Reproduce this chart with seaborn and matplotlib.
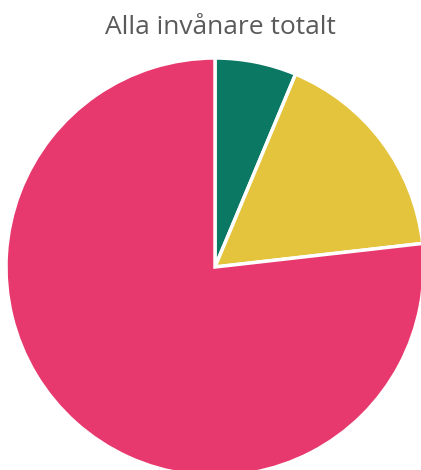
import matplotlib
matplotlib.use("Agg")
import matplotlib.pyplot as plt
import seaborn as sns

# andelar, medurs från klockan tolv
labels = ["Grupp A", "Grupp B", "Grupp C"]
values = [6.3, 16.9, 76.8]
colors = ["#0b7864", "#e3c43c", "#e8396f"]
title = "Alla invånare totalt"

sns.set_theme(style="white")
plt.rcParams['font.family'] = ['Open Sans', 'DejaVu Sans']

fig = plt.figure(figsize=(4.21, 4.70), dpi=100)
ax = fig.add_axes([6 / 421, -6 / 470, 418 / 421, 418 / 470])
ax.pie(values, colors=sns.color_palette(colors), startangle=90, counterclock=False,
       radius=1.0, wedgeprops=dict(edgecolor="white", linewidth=2.5))
ax.set_xlim(-1, 1)
ax.set_ylim(-1, 1)
ax.set_aspect("equal")
ax.axis("off")

fig.text(220 / 421, 1 - 27 / 470, title, ha="center", va="center",
         fontsize=19, color="#5a5a5a")

fig.savefig("out.png", dpi=100)
